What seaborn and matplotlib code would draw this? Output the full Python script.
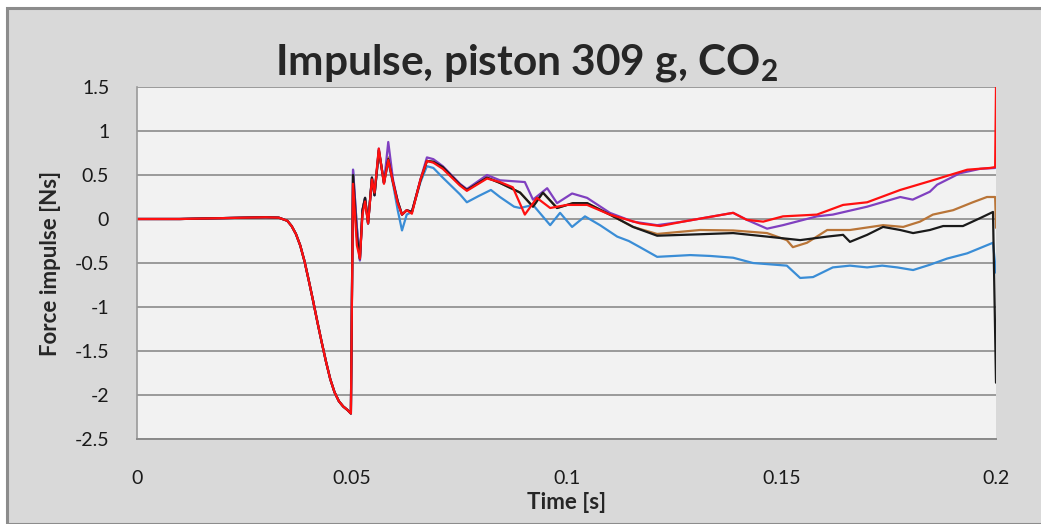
import matplotlib.pyplot as plt
import pandas as pd
import seaborn as sns
from matplotlib.patches import Rectangle

# shared part before the piston hit (all runs overlap here)
t_drop = [0.0, 0.01, 0.02, 0.03, 0.033, 0.035, 0.036, 0.037, 0.038, 0.039, 0.040, 0.041,
          0.042, 0.043, 0.044, 0.045, 0.046, 0.047, 0.048, 0.049, 0.0498]
v_drop = [0.0, 0.0, 0.01, 0.02, 0.015, -0.02, -0.08, -0.17, -0.30, -0.48, -0.70, -0.93,
          -1.17, -1.40, -1.62, -1.82, -1.97, -2.07, -2.13, -2.17, -2.21]

t_blue = [0.0503, 0.0512, 0.0519, 0.0525, 0.0531, 0.0538, 0.0547, 0.0553, 0.0563, 0.0569,
          0.0575, 0.0585, 0.0596, 0.0607, 0.0617, 0.0628, 0.064, 0.066, 0.0675, 0.069,
          0.0712, 0.0752, 0.0768, 0.0795, 0.0824, 0.0845, 0.0878, 0.0892, 0.0922, 0.0962,
          0.0985, 0.1013, 0.1043, 0.1078, 0.1118, 0.1145, 0.1171, 0.1211, 0.125, 0.1288,
          0.1335, 0.1388, 0.1434, 0.1513, 0.1544, 0.1574, 0.162, 0.166, 0.17, 0.1735,
          0.177, 0.1807, 0.1846, 0.1886, 0.1933, 0.1963, 0.1993, 0.2]
v_blue = [0.56, -0.1, -0.47, 0.1, 0.24, -0.05, 0.47, 0.27, 0.75, 0.6,
          0.41, 0.65, 0.4, 0.1, -0.13, 0.05, 0.08, 0.42, 0.6, 0.58,
          0.47, 0.28, 0.19, 0.26, 0.33, 0.25, 0.14, 0.125, 0.16, -0.07,
          0.07, -0.09, 0.03, -0.07, -0.2, -0.25, -0.32, -0.43, -0.42, -0.41,
          -0.42, -0.44, -0.5, -0.53, -0.67, -0.66, -0.55, -0.53, -0.55, -0.53,
          -0.55, -0.58, -0.52, -0.45, -0.39, -0.33, -0.27, -0.61]

t_brown = [0.0503, 0.0512, 0.0519, 0.0525, 0.0531, 0.0538, 0.0547, 0.0553, 0.0563, 0.0569,
           0.0575, 0.0585, 0.0596, 0.0607, 0.0617, 0.0628, 0.064, 0.066, 0.0675, 0.069,
           0.0712, 0.0752, 0.0768, 0.0815, 0.0845, 0.0892, 0.0922, 0.0945, 0.0978, 0.1015,
           0.1048, 0.1101, 0.1155, 0.1211, 0.1311, 0.1388, 0.1467, 0.1513, 0.1527, 0.156,
           0.1607, 0.166, 0.1737, 0.1784, 0.1823, 0.1853, 0.19, 0.1946, 0.1979, 0.1998, 0.2]
v_brown = [0.5, -0.15, -0.45, 0.1, 0.24, -0.05, 0.47, 0.27, 0.78, 0.6,
           0.41, 0.7, 0.42, 0.2, 0.05, 0.1, 0.08, 0.44, 0.66, 0.65,
           0.59, 0.39, 0.33, 0.47, 0.41, 0.3, 0.14, 0.3, 0.125, 0.18,
           0.18, 0.05, -0.09, -0.17, -0.125, -0.13, -0.16, -0.24, -0.32, -0.27,
           -0.125, -0.125, -0.07, -0.09, -0.03, 0.05, 0.1, 0.19, 0.25, 0.25, -0.1]

t_purple = [0.0503, 0.0512, 0.0519, 0.0525, 0.0531, 0.0538, 0.0547, 0.0553, 0.0563, 0.0569,
            0.0575, 0.0585, 0.0596, 0.0607, 0.0617, 0.0628, 0.064, 0.066, 0.0675, 0.069,
            0.0712, 0.0752, 0.0768, 0.0815, 0.0845, 0.0903, 0.0922, 0.0955, 0.0978, 0.1013,
            0.1048, 0.1101, 0.1155, 0.1211, 0.1271, 0.1388, 0.142, 0.1467, 0.1504, 0.1583,
            0.162, 0.17, 0.1777, 0.1806, 0.1846, 0.1863, 0.1916, 0.1963, 0.1998]
v_purple = [0.56, -0.1, -0.47, 0.1, 0.24, -0.05, 0.47, 0.27, 0.8, 0.6,
            0.41, 0.875, 0.45, 0.2, 0.05, 0.1, 0.08, 0.45, 0.7, 0.68,
            0.6, 0.4, 0.34, 0.5, 0.44, 0.42, 0.22, 0.35, 0.18, 0.29,
            0.24, 0.07, -0.03, -0.07, -0.03, 0.07, -0.01, -0.11, -0.07, 0.03,
            0.05, 0.14, 0.25, 0.22, 0.31, 0.39, 0.52, 0.57, 0.58]

t_black = [0.0503, 0.0512, 0.0519, 0.0525, 0.0531, 0.0538, 0.0547, 0.0553, 0.0563, 0.0569,
           0.0575, 0.0585, 0.0596, 0.0607, 0.0617, 0.0628, 0.064, 0.066, 0.0675, 0.069,
           0.0712, 0.0752, 0.0768, 0.0815, 0.0845, 0.0892, 0.0922, 0.0945, 0.0978, 0.1015,
           0.1048, 0.1101, 0.1155, 0.1211, 0.1271, 0.1388, 0.1467, 0.1544, 0.1607, 0.1644,
           0.166, 0.17, 0.1737, 0.1777, 0.1807, 0.1846, 0.1877, 0.1923, 0.1963, 0.1993, 0.2]
v_black = [0.5, -0.2, -0.45, 0.1, 0.24, -0.05, 0.47, 0.27, 0.78, 0.6,
           0.41, 0.68, 0.42, 0.2, 0.05, 0.1, 0.08, 0.44, 0.66, 0.65,
           0.59, 0.39, 0.33, 0.47, 0.41, 0.3, 0.14, 0.3, 0.125, 0.18,
           0.18, 0.05, -0.09, -0.19, -0.18, -0.16, -0.2, -0.24, -0.2, -0.18,
           -0.26, -0.18, -0.09, -0.125, -0.16, -0.125, -0.08, -0.08, 0.01, 0.08, -1.86]

t_red = [0.0503, 0.0512, 0.0519, 0.0525, 0.0531, 0.0538, 0.0547, 0.0553, 0.0563, 0.0569,
         0.0575, 0.0585, 0.0596, 0.0607, 0.0617, 0.0628, 0.064, 0.066, 0.0675, 0.069,
         0.0712, 0.0752, 0.0768, 0.0815, 0.0845, 0.0875, 0.0903, 0.0931, 0.0962, 0.1001,
         0.1048, 0.1101, 0.1171, 0.1218, 0.1271, 0.1388, 0.142, 0.1458, 0.1504, 0.1583,
         0.1644, 0.17, 0.1777, 0.1846, 0.1886, 0.1933, 0.1986, 0.1998, 0.2]
v_red = [0.4, -0.3, -0.45, 0.05, 0.2, -0.05, 0.45, 0.3, 0.8, 0.6,
         0.4, 0.67, 0.42, 0.18, 0.05, 0.1, 0.06, 0.45, 0.66, 0.64,
         0.57, 0.38, 0.32, 0.46, 0.42, 0.36, 0.05, 0.24, 0.125, 0.16,
         0.16, 0.05, -0.05, -0.08, -0.03, 0.07, -0.01, -0.03, 0.03, 0.05,
         0.16, 0.19, 0.33, 0.43, 0.49, 0.56, 0.58, 0.59, 1.5]

runs = {
    'blue': (t_blue, v_blue),
    'brown': (t_brown, v_brown),
    'purple': (t_purple, v_purple),
    'black': (t_black, v_black),
    'red': (t_red, v_red),
}
run_colors = {'blue': '#3a8dd6', 'brown': '#b97538', 'purple': '#8040c0',
              'black': '#1a1a1a', 'red': '#ff1010'}

x_ticks = [0, 0.05, 0.1, 0.15, 0.2]
x_labels = ['0', '0.05', '0.1', '0.15', '0.2']
y_ticks = [1.5, 1, 0.5, 0, -0.5, -1, -1.5, -2, -2.5]
y_labels = ['1.5', '1', '0.5', '0', '-0.5', '-1', '-1.5', '-2', '-2.5']

frames = []
for name, (t, v) in runs.items():
    frames.append(pd.DataFrame({'time': t_drop + t, 'impulse': v_drop + v, 'run': name}))
df = pd.concat(frames, ignore_index=True)

sns.set_style('white')
plt.rcParams['font.family'] = ['Lato', 'DejaVu Sans']

fig = plt.figure(figsize=(10.41, 5.24), dpi=100)
fig.patch.set_facecolor('white')
fig.patches.append(Rectangle((7 / 1041, 0), 1.1, (524 - 8) / 524, transform=fig.transFigure,
                             facecolor='#d9d9d9', edgecolor='#8c8c8c', linewidth=2.2, zorder=-10))

ax = fig.add_axes([137 / 1041, 1 - 439 / 524, (996 - 137) / 1041, (439 - 87) / 524])
ax.set_facecolor('#f2f2f2')

sns.lineplot(data=df, x='time', y='impulse', hue='run', palette=run_colors,
             sort=False, estimator=None, legend=False, linewidth=1.6, ax=ax)

ax.set_xlim(0, 0.2)
ax.set_ylim(-2.5, 1.5)
ax.set_xticks(x_ticks)
ax.set_xticklabels(x_labels, fontsize=14)
ax.set_yticks(y_ticks)
ax.set_yticklabels(y_labels, fontsize=14)
ax.tick_params(axis='both', length=0, colors='#1a1a1a')
ax.tick_params(axis='y', pad=20)
ax.tick_params(axis='x', pad=22)
ax.grid(True, axis='y', color='#9a9a9a', linewidth=1.4)
ax.set_axisbelow(True)
for side in ['top', 'right']:
    ax.spines[side].set_visible(False)
ax.spines['left'].set_color('#9a9a9a')
ax.spines['bottom'].set_color('#8a8a8a')
ax.spines['left'].set_linewidth(1.2)
ax.spines['bottom'].set_linewidth(1.4)

ax.set_xlabel('Time [s]', fontsize=16, fontweight='bold', labelpad=4)
ax.set_ylabel('Force impulse [Ns]', fontsize=16, fontweight='bold', labelpad=10)

fig.text(526 / 1041, 1 - 63 / 524, r'Impulse, piston 309 g, CO$_\mathregular{2}$',
         ha='center', va='center', fontsize=30.5, fontweight='bold')

fig.savefig('out.png', dpi=100, facecolor=fig.get_facecolor())
